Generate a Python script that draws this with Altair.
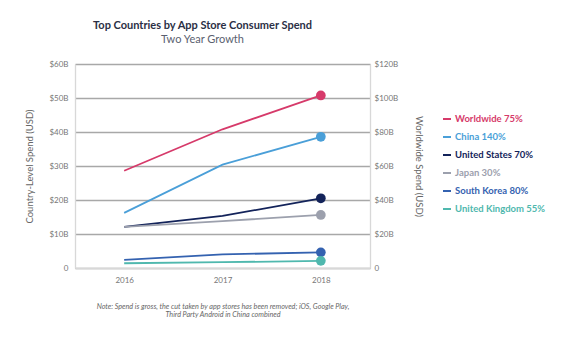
import altair as alt
import pandas as pd

years = [2016, 2017, 2018]
series = ["Worldwide 75%", "China 140%", "United States 70%", "Japan 30%",
          "South Korea 80%", "United Kingdom 55%"]
colors = ["#d63a6a", "#4a9fd8", "#13235a", "#9ca0ad", "#3462b0", "#4fb8ae"]

worldwide = [57.2, 81.6, 101.5]      # right axis ($B)
china = [16.2, 30.4, 38.6]           # left axis ($B)
united_states = [12.1, 15.3, 20.5]
japan = [12.1, 13.8, 15.6]
south_korea = [2.4, 4.0, 4.6]
united_kingdom = [1.4, 1.7, 2.1]

values = [worldwide, china, united_states, japan, south_korea, united_kingdom]
rows = []
for name, vals in zip(series, values):
    for yr, v in zip(years, vals):
        rows.append({"Year": str(yr), "Series": name, "Spend": v,
                     "Axis": "world" if name == series[0] else "country"})
df = pd.DataFrame(rows)

FONT = "Lato"
label_expr = "datum.value == 0 ? '0' : '$' + datum.value + 'B'"

color_expr = " : ".join(
    f"datum.value == '{s}' ? '{c}'" for s, c in zip(series, colors)
) + " : '#333'"

color = alt.Color(
    "Series:N",
    scale=alt.Scale(domain=series, range=colors),
    legend=alt.Legend(
        title=None, orient="none", legendX=367, legendY=50,
        symbolType="stroke", symbolSize=64, symbolStrokeWidth=2,
        labelFont=FONT, labelFontSize=9.5, labelFontWeight="bold",
        labelColor=alt.ExprRef(color_expr), labelOffset=3, rowPadding=8,
    ),
)

x = alt.X(
    "Year:O",
    scale=alt.Scale(type="point", padding=0.5),
    axis=alt.Axis(
        labelAngle=0, ticks=False, grid=False, domainColor="#d8d8d8",
        domainWidth=1.3, labelColor="#777", labelFontSize=8, labelFont=FONT,
        labelPadding=8, zindex=1,
        title=["Note: Spend is gross, the cut taken by app stores has been removed; iOS, Google Play,",
               "Third Party Android in China combined"],
        titleFont=FONT, titleFontSize=7.2, titleFontStyle="italic",
        titleFontWeight="normal", titleColor="#666", titlePadding=18,
        titleLineHeight=8.5,
    ),
)

left_axis = alt.Axis(
    values=[0, 10, 20, 30, 40, 50, 60], labelExpr=label_expr, ticks=False,
    grid=True, gridColor="#a8a8a8", gridWidth=1.3, domainColor="#d8d8d8",
    domainWidth=1.3, labelColor="#777", labelFontSize=8, labelFont=FONT,
    labelPadding=7, title="Country-Level Spend (USD)", titleFont=FONT,
    titleFontSize=9.5, titleFontWeight="normal", titleColor="#666",
    titlePadding=14,
)
right_axis = alt.Axis(
    orient="right", values=[0, 20, 40, 60, 80, 100, 120], labelExpr=label_expr,
    ticks=False, grid=False, domainColor="#d8d8d8", domainWidth=1.3,
    labelColor="#777", labelFontSize=8, labelFont=FONT, labelPadding=4,
    title="Worldwide Spend (USD)", titleFont=FONT, titleFontSize=9.5,
    titleFontWeight="normal", titleColor="#666", titlePadding=16, titleAngle=90,
)

base = alt.Chart(df)
country = base.transform_filter("datum.Axis == 'country'")
world = base.transform_filter("datum.Axis == 'world'")

c_line = country.mark_line(strokeWidth=1.8).encode(
    x=x, y=alt.Y("Spend:Q", scale=alt.Scale(domain=[0, 60]), axis=left_axis),
    color=color)
c_pts = country.transform_filter("datum.Year == '2018'").mark_point(
    filled=True, size=95, opacity=1).encode(
    x=x, y=alt.Y("Spend:Q", scale=alt.Scale(domain=[0, 60]), axis=None),
    color=color)
w_line = world.mark_line(strokeWidth=1.8).encode(
    x=x, y=alt.Y("Spend:Q", scale=alt.Scale(domain=[0, 120]), axis=right_axis),
    color=color)
w_pts = world.transform_filter("datum.Year == '2018'").mark_point(
    filled=True, size=95, opacity=1).encode(
    x=x, y=alt.Y("Spend:Q", scale=alt.Scale(domain=[0, 120]), axis=None),
    color=color)

chart = alt.layer(c_line, c_pts, w_line, w_pts).resolve_scale(
    y="independent"
).properties(
    width=295, height=204,
    autosize=alt.AutoSizeParams(type="none"),
    padding={"left": 75, "top": 64, "right": 210, "bottom": 77},
    title=alt.TitleParams(
        text="Top Countries by App Store Consumer Spend",
        subtitle="Two Year Growth",
        anchor="middle", frame="group", dx=-20, offset=15,
        font=FONT, fontSize=11, fontWeight="bold", color="#2b2f45",
        subtitleFont=FONT, subtitleFontSize=11, subtitleColor="#5a5f70",
        subtitlePadding=3,
    ),
).configure_view(stroke=None).configure(background="white")

chart.save("out.html", embed_options={"renderer": "svg", "actions": False})
